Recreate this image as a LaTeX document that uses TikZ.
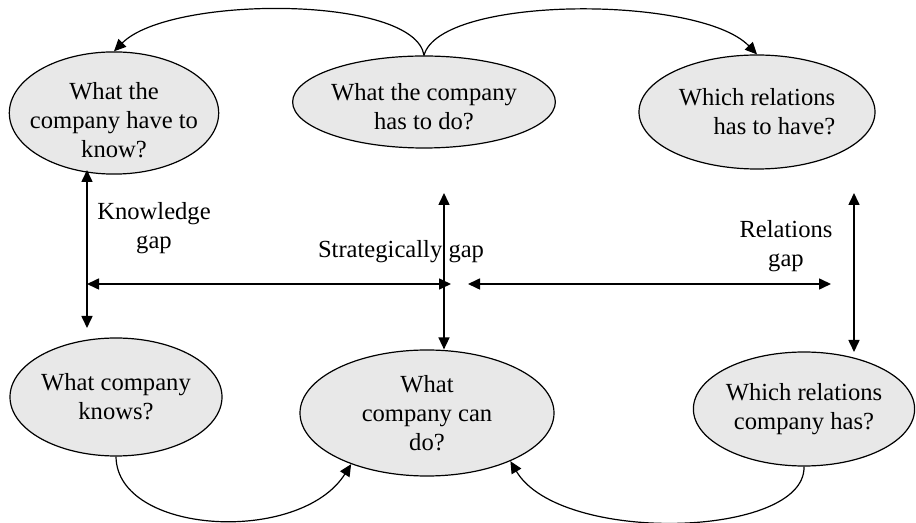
\documentclass[tikz,border=0pt]{standalone}
\usepackage{fontspec}
\setmainfont{Liberation Serif}
\usetikzlibrary{shapes.geometric,arrows.meta}
% text block moved down inside its node without changing the node size
\newcommand{\lowtext}[2]{\raisebox{-#1}[\height][\depth]{\begin{tabular}{@{}c@{}}#2\end{tabular}}}
\begin{document}
\begin{tikzpicture}[x=0.5pt,y=-0.5pt,
  bubble/.style={ellipse,draw,line width=0.6pt,fill=black!9,inner sep=0pt,align=center,
    font=\fontsize{12.3}{14.4}\selectfont},
  gaplabel/.style={inner sep=0pt,align=center,font=\fontsize{12.3}{14.4}\selectfont},
  link/.style={line width=0.6pt,-{Triangle[length=6pt,width=5.5pt]}},
  gaparrow/.style={line width=0.8pt,{Triangle[length=6pt,width=5.5pt]}-{Triangle[length=6pt,width=5.5pt]}}]
\useasboundingbox (0,0) rectangle (916,523);

% questions: what should be
\node[bubble,inner xsep=-5pt,minimum width=208*0.5pt,minimum height=114*0.5pt] (know) at (114,113)
  {\lowtext{5pt}{What the\\company have to\\know?}};
\node[bubble,minimum width=262*0.5pt,minimum height=92*0.5pt] (todo) at (424,102)
  {\lowtext{3.5pt}{What the company\\has to do?}};
\node[bubble,minimum width=236*0.5pt,minimum height=114*0.5pt,align=right] (rel) at (757,112)
  {Which relations\\has to have?};

% questions: what is
\node[bubble,minimum width=212*0.5pt,minimum height=118*0.5pt] (knows) at (116,397)
  {What company\\knows?};
\node[bubble,minimum width=254*0.5pt,minimum height=126*0.5pt] (can) at (427,413)
  {What\\company can\\do?};
\node[bubble,minimum width=220*0.5pt,minimum height=114*0.5pt] (has) at (804,409)
  {Which relations\\company has?};

% free ends of the gap arrows
\coordinate (kTop) at (87,170);
\coordinate (kBot) at (87,328);
\coordinate (sTop) at (444,193);
\coordinate (rTop) at (854,193);
\coordinate (hL1) at (87,284);
\coordinate (hL2) at (451,284);
\coordinate (hR1) at (468,284);
\coordinate (hR2) at (831,284);

% top arcs
\draw[link] (todo.north) .. controls (415,-5) and (170,-5) .. (know.north);
\draw[link] (todo.north) .. controls (440,-5) and (700,-5) .. (rel.north);

% bottom arcs
\draw[link] (knows.south) .. controls (117,535) and (300,545) .. (can.214);
\draw[link] (has.south) .. controls (806,538) and (560,545) .. (can.330);

% gap arrows
\draw[gaparrow] (kTop) -- (kBot);
\draw[gaparrow] (sTop) -- (sTop |- can.north);
\draw[gaparrow] (rTop) -- (854,352);
\draw[gaparrow] (hL1) -- (hL2);
\draw[gaparrow] (hR1) -- (hR2);

% gap labels
\node[gaplabel] (kg) at (154,228) {Knowledge\\gap};
\node[gaplabel] (sg) at (401,252) {Strategically gap};
\node[gaplabel] (rg) at (786,246) {Relations\\gap};
\end{tikzpicture}
\end{document}
